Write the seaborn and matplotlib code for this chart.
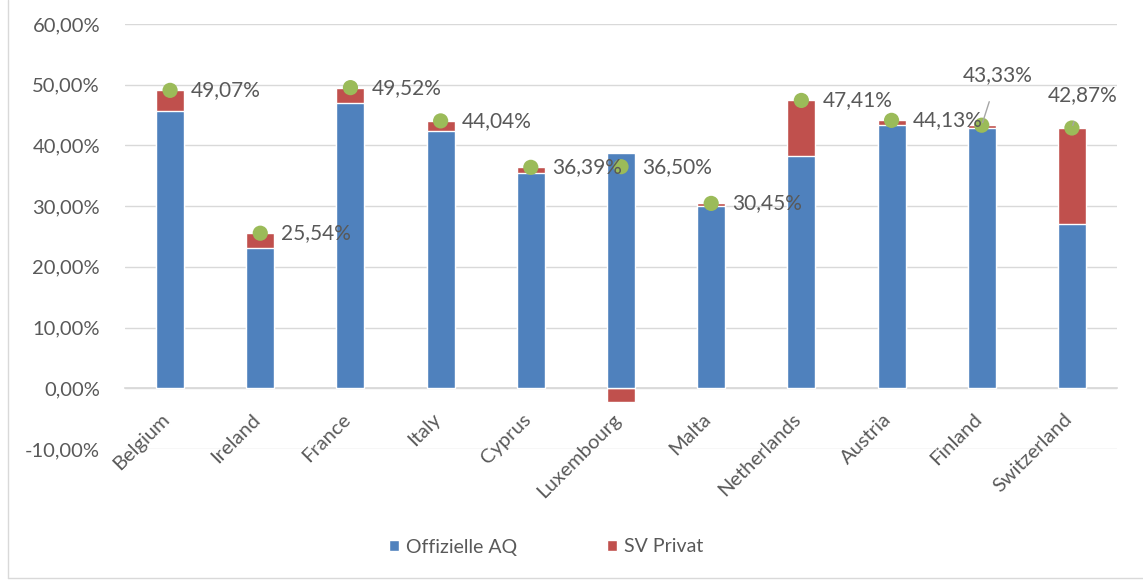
import seaborn as sns
import matplotlib.pyplot as plt
import matplotlib.transforms as mtransforms
import pandas as pd
from matplotlib.patches import Patch
from matplotlib.lines import Line2D
from matplotlib.ticker import FuncFormatter, MultipleLocator

# Non-interactive backend
plt.switch_backend("Agg")

countries = ["Belgium", "Ireland", "France", "Italy", "Cyprus", "Luxembourg",
             "Malta", "Netherlands", "Austria", "Finland", "Switzerland"]
offizielle_aq = [45.62, 23.10, 46.92, 42.34, 35.39, 38.80, 30.10, 38.31, 43.33, 42.93, 27.10]
sv_privat = [3.45, 2.44, 2.60, 1.70, 1.00, -2.30, 0.35, 9.10, 0.80, 0.40, 15.77]
totals = [49.07, 25.54, 49.52, 44.04, 36.39, 36.50, 30.45, 47.41, 44.13, 43.33, 42.87]

BLUE = "#4F81BD"
RED = "#C0504D"
GREEN = "#9BBB59"
TEXT = "#595959"
GRID = "#D9D9D9"

df = pd.DataFrame({"country": countries, "aq": offizielle_aq, "sv": sv_privat, "total": totals})
# red part drawn behind the blue one: positive parts stack on top of the blue bar,
# negative parts hang below zero
df["red_top"] = [a + s if s >= 0 else s for a, s in zip(df["aq"], df["sv"])]

sns.set_theme(style="white")
plt.rcParams["font.family"] = ["Lato", "DejaVu Sans"]

fig = plt.figure(figsize=(11.43, 5.83), dpi=100)
ax = fig.add_axes([125 / 1143, 1 - 449 / 583, (1117 - 125) / 1143, (449 - 24) / 583])

sns.barplot(data=df, x="country", y="red_top", color=RED, width=0.31,
            saturation=1, ax=ax, order=countries, zorder=2)
sns.barplot(data=df, x="country", y="aq", color=BLUE, width=0.31,
            saturation=1, ax=ax, order=countries, zorder=3)
sns.scatterplot(data=df, x="country", y="total", color=GREEN, s=120,
                edgecolor="none", ax=ax, zorder=4)

# ----------------------------
# Data labels
# ----------------------------
def pct(v):
    return f"{v:.2f}".replace(".", ",") + "%"

for i, v in enumerate(totals):
    name = countries[i]
    if name == "Finland":
        ax.annotate(pct(v), (i, v), xytext=(16, 50), textcoords="offset pixels",
                    ha="center", va="center", fontsize=15, color=TEXT, zorder=5,
                    arrowprops=dict(arrowstyle="-", color="#A6A6A6", lw=1,
                                    shrinkA=10, shrinkB=2))
    elif name == "Switzerland":
        ax.annotate(pct(v), (i, v), xytext=(11, 33), textcoords="offset pixels",
                    ha="center", va="center", fontsize=15, color=TEXT, zorder=5,
                    arrowprops=dict(arrowstyle="-", color="#A6A6A6", lw=1,
                                    shrinkA=10, shrinkB=2))
    else:
        ax.annotate(pct(v), (i, v), xytext=(21, 0), textcoords="offset pixels",
                    ha="left", va="center", fontsize=15, color=TEXT, zorder=5)

# ----------------------------
# Axes styling
# ----------------------------
ax.set_ylim(-10, 60)
ax.set_xlim(-0.5, len(countries) - 0.5)
ax.yaxis.set_major_locator(MultipleLocator(10))
ax.yaxis.set_major_formatter(FuncFormatter(lambda v, p: f"{v:.2f}".replace(".", ",") + "%"))
ax.grid(axis="y", color=GRID, lw=1, zorder=0)
ax.set_axisbelow(True)
for side in ["top", "right", "left"]:
    ax.spines[side].set_visible(False)
ax.spines["bottom"].set_position(("data", 0))
ax.spines["bottom"].set_color(GRID)
ax.set_xlabel("")
ax.set_ylabel("")
ax.tick_params(axis="y", length=0, pad=18, labelsize=14.5, labelcolor=TEXT)
ax.tick_params(axis="x", length=0, pad=16, labelsize=14.5, labelcolor=TEXT)
# nudge rotated category labels a little to the left, like Excel places them
shift = mtransforms.ScaledTranslation(-9 / 100, 0, fig.dpi_scale_trans)
for lbl in ax.get_xticklabels():
    lbl.set_rotation(45)
    lbl.set_ha("right")
    lbl.set_va("top")
    lbl.set_rotation_mode("anchor")
    lbl.set_transform(lbl.get_transform() + shift)

# ----------------------------
# Legend
# ----------------------------
handles = [Patch(facecolor=BLUE, label="Offizielle AQ"),
           Patch(facecolor=RED, label="SV Privat")]
fig.legend(handles=handles, loc="center", bbox_to_anchor=(546 / 1143, 1 - 547 / 583),
           ncol=2, frameon=False, fontsize=14, labelcolor=TEXT,
           handlelength=0.55, handleheight=0.55, handletextpad=0.35, columnspacing=4.6)

# chart area border (left and bottom edges visible in the source)
fig.add_artist(Line2D([8 / 1143, 8 / 1143], [0.008, 1.0], color=GRID, lw=1))
fig.add_artist(Line2D([8 / 1143, 1.0], [1 - 578 / 583, 1 - 578 / 583], color=GRID, lw=1))

fig.savefig("out.png", dpi=100)
plt.close(fig)
